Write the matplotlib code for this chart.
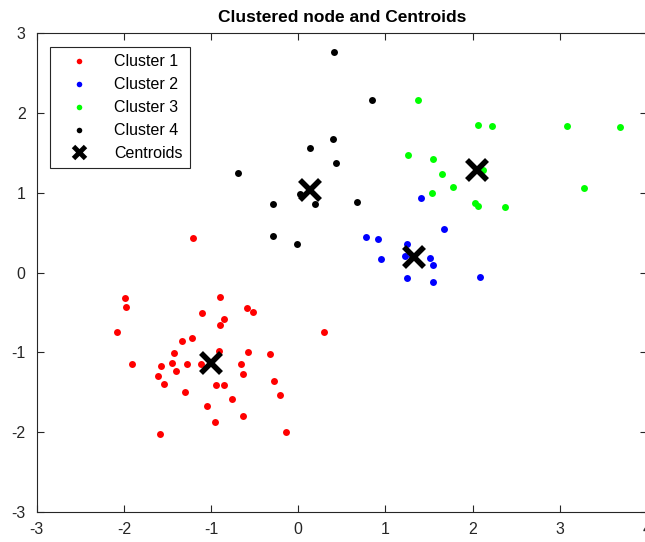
import matplotlib.pyplot as plt
from matplotlib.lines import Line2D

plt.rcParams['font.family'] = ['Liberation Sans', 'DejaVu Sans']
plt.rcParams['axes.unicode_minus'] = False

# cluster points
c1_x = [-1.213, -1.986, -1.971, -2.075, -1.902, -1.577, -1.611, -1.538, -1.584, -1.423,
        -1.446, -1.405, -1.336, -1.221, -1.274, -1.305, -1.101, -0.902, -0.856, -0.894,
        -0.910, -1.121, -0.948, -0.848, -1.044, -0.952, -0.761, -0.653, -0.630, -0.638,
        -0.580, -0.584, -0.519, -0.324, -0.282, -0.209, -0.144, 0.290]
c1_y = [0.43, -0.32, -0.434, -0.74, -1.146, -1.175, -1.29, -1.40, -2.025, -1.01,
        -1.13, -1.234, -0.855, -0.82, -1.14, -1.49, -0.51, -0.309, -0.584, -0.65,
        -0.98, -1.14, -1.41, -1.41, -1.667, -1.875, -1.58, -1.14, -1.27, -1.79,
        -0.99, -0.446, -0.49, -1.02, -1.36, -1.53, -2.0, -0.74]

c2_x = [1.404, 1.669, 0.772, 0.910, 1.244, 1.224, 1.508, 1.546, 0.952, 1.244, 1.546, 2.083, 1.30]
c2_y = [0.929, 0.541, 0.445, 0.425, 0.358, 0.208, 0.183, 0.091, 0.166, -0.067, -0.117, -0.05, 0.20]

c3_x = [1.370, 2.067, 2.228, 3.083, 3.692, 1.259, 1.543, 1.649, 1.780, 1.538,
        2.124, 2.029, 2.060, 2.377, 3.282]
c3_y = [2.160, 1.845, 1.833, 1.837, 1.825, 1.475, 1.420, 1.241, 1.070, 1.000,
        1.283, 0.875, 0.833, 0.820, 1.062]

c4_x = [0.408, 0.845, 0.393, 0.140, 0.431, -0.695, -0.285, 0.017, 0.197, 0.676, -0.293, -0.014]
c4_y = [2.766, 2.158, 1.670, 1.566, 1.370, 1.245, 0.858, 0.980, 0.858, 0.880, 0.457, 0.357]

cent_x = [-1.006, 1.324, 2.055, 0.136]
cent_y = [-1.134, 0.200, 1.283, 1.029]

clusters = [(c1_x, c1_y, 'red', 'Cluster 1'),
            (c2_x, c2_y, 'blue', 'Cluster 2'),
            (c3_x, c3_y, '#00ff00', 'Cluster 3'),
            (c4_x, c4_y, 'black', 'Cluster 4')]


def main():
    fig = plt.figure(figsize=(6.45, 5.42), dpi=100)
    ax = fig.add_axes([0.057, 0.055, 0.946, 0.884])

    for xs, ys, col, lab in clusters:
        ax.plot(xs, ys, 'o', color=col, markersize=5, markeredgewidth=0, label=lab)
    ax.plot(cent_x, cent_y, 'x', color='black', markersize=15, markeredgewidth=4, label='Centroids')

    ax.set_xlim(-3, 4)
    ax.set_ylim(-3, 3)
    ax.set_xticks(range(-3, 5))
    ax.set_yticks(range(-3, 4))
    ax.tick_params(direction='in', top=True, right=True, labelsize=11.5, length=5,
                   color='#262626', labelcolor='#262626')
    ax.tick_params(axis='x', pad=7)
    ax.tick_params(axis='y', pad=8)
    for s in ax.spines.values():
        s.set_color('#262626')
        s.set_linewidth(0.8)
    ax.set_title('Clustered node and Centroids', fontsize=12.5, fontweight='bold', pad=8)

    handles = [Line2D([], [], ls='none', marker='o', color=c, markersize=4, markeredgewidth=0)
               for c in ['red', 'blue', '#00ff00', 'black']]
    handles.append(Line2D([], [], ls='none', marker='x', color='black', markersize=9, markeredgewidth=3.5))
    labels = ['Cluster 1', 'Cluster 2', 'Cluster 3', 'Cluster 4', 'Centroids']
    leg = ax.legend(handles, labels, loc='upper left', bbox_to_anchor=(0.021, 0.971), fontsize=11.5,
                    fancybox=False, edgecolor='#262626', framealpha=1, handlelength=2.8,
                    handletextpad=0.8, labelspacing=0.5, borderpad=0.45, borderaxespad=0)
    leg.get_frame().set_linewidth(0.8)

    fig.savefig('out.png')


if __name__ == '__main__':
    main()
